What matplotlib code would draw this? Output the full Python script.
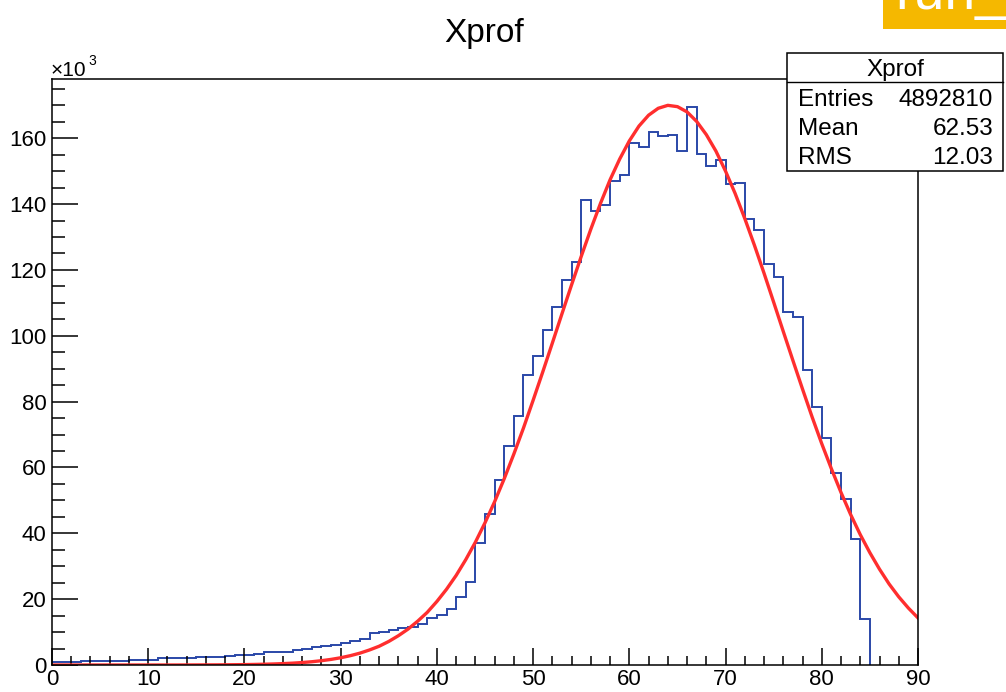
import matplotlib
matplotlib.use("Agg")
import matplotlib.pyplot as plt
from matplotlib.patches import Rectangle
from matplotlib.ticker import MultipleLocator
import numpy as np

plt.rcParams['font.family'] = ['Liberation Sans', 'DejaVu Sans']

# histogram Xprof, 1 unit bins from 0 to 85, counts in units of 1e3
bin_edges = np.arange(0, 86, 1)
counts = [1.0, 1.0, 1.0, 1.1, 1.1, 1.1, 1.3, 1.3, 1.4, 1.4,
          1.5, 2.0, 2.0, 2.1, 2.1, 2.4, 2.5, 2.5, 2.6, 3.0,
          3.1, 3.4, 3.9, 4.0, 4.1, 4.5, 4.8, 5.5, 5.9, 6.1,
          6.6, 7.2, 7.9, 9.6, 9.9, 10.6, 11.1, 11.6, 12.5, 14.2,
          15.3, 16.9, 20.6, 25.3, 37.2, 45.8, 56.2, 66.6, 75.5, 88.0,
          94.0, 101.8, 108.6, 117.0, 122.3, 141.2, 137.8, 139.8, 147.1, 148.7,
          158.6, 157.2, 161.9, 160.6, 160.9, 156.2, 169.5, 155.3, 151.6, 153.5,
          146.1, 146.4, 135.6, 132.2, 121.8, 117.8, 107.2, 105.7, 89.7, 78.3,
          68.9, 58.4, 50.4, 38.2, 13.9]

# red fit curve, read at every unit from 0 to 90
fit_x = np.arange(0, 91, 1)
fit_y = [0.0, 0.0, 0.0, 0.0, 0.0, 0.0, 0.0, 0.0, 0.0, 0.0,
         0.0, 0.0, 0.0, 0.0, 0.01, 0.02, 0.03, 0.04, 0.06, 0.09,
         0.12, 0.17, 0.23, 0.31, 0.42, 0.56, 0.75, 0.99, 1.31, 1.70,
         2.20, 2.83, 3.6, 4.57, 5.7, 7.16, 8.9, 10.9, 13.3, 16.0,
         19.3, 23.0, 27.2, 32.0, 37.3, 43.2, 49.6, 56.6, 64.1, 72.0,
         80.4, 89.0, 97.8, 106.7, 115.5, 124.1, 132.4, 140.2, 147.4, 153.7,
         159.2, 163.7, 167.0, 169.1, 170.0, 169.6, 168.0, 165.1, 161.1, 156.1,
         150.0, 143.2, 135.6, 127.5, 119.0, 110.2, 101.3, 92.5, 83.8, 75.3,
         67.2, 59.6, 52.4, 45.7, 39.6, 34.1, 29.1, 24.6, 20.7, 17.3,
         14.3]

stats_labels = ['Entries', 'Mean', 'RMS']
stats_values = ['4892810', '62.53', '12.03']

W, H = 1006, 692
fig = plt.figure(figsize=(W / 100, H / 100), dpi=100)

def fx(px):
    return px / W

def fy(py):
    return 1 - py / H

ax = fig.add_axes([fx(52), fy(665), fx(918) - fx(52), fy(79) - fy(665)])

ax.stairs(counts, bin_edges, color='#2a48a8', linewidth=1.4)
ax.plot(fit_x, fit_y, color='#ff2e2e', linewidth=2.4)

ax.set_xlim(0, 90)
ax.set_ylim(0, 178)
ax.xaxis.set_major_locator(MultipleLocator(10))
ax.xaxis.set_minor_locator(MultipleLocator(2))
ax.yaxis.set_major_locator(MultipleLocator(20))
ax.yaxis.set_minor_locator(MultipleLocator(5))
ax.tick_params(axis='y', which='major', direction='in', length=19, width=1.1, pad=4, labelsize=16)
ax.tick_params(axis='y', which='minor', direction='in', length=9.5, width=1.1)
ax.tick_params(axis='x', which='major', direction='in', length=12.5, width=1.1, pad=3, labelsize=16)
ax.tick_params(axis='x', which='minor', direction='in', length=6.3, width=1.1)
for s in ax.spines.values():
    s.set_linewidth(1.1)

fig.text(fx(484), fy(42), 'Xprof', ha='center', va='baseline', fontsize=24)
fig.text(fx(51), fy(76), '\u00d710', ha='left', va='baseline', fontsize=15)
fig.text(fx(88), fy(65), '3', ha='left', va='baseline', fontsize=10)

# stats box
fig.patches.append(Rectangle((fx(787), fy(171)), fx(1003) - fx(787), fy(53) - fy(171),
                             transform=fig.transFigure, facecolor='white',
                             edgecolor='black', linewidth=1.1, zorder=5))
fig.lines.append(plt.Line2D([fx(787), fx(1003)], [fy(81.5), fy(81.5)],
                            transform=fig.transFigure, color='black', linewidth=1.0, zorder=6))
fig.text(fx(895), fy(76), 'Xprof', ha='center', va='baseline', fontsize=17.5, zorder=7)
for i, (lab, val) in enumerate(zip(stats_labels, stats_values)):
    yb = fy(106 + 29 * i)
    fig.text(fx(798), yb, lab, ha='left', va='baseline', fontsize=17.5, zorder=7)
    fig.text(fx(993), yb, val, ha='right', va='baseline', fontsize=17.5, zorder=7)

# orange tag cut off at top right
fig.patches.append(Rectangle((fx(883), fy(29)), 1 - fx(883), fy(0) - fy(29),
                             transform=fig.transFigure, facecolor='#f5b800',
                             edgecolor='none', zorder=5))
fig.text(fx(895), fy(9), 'run_', ha='left', va='baseline', fontsize=40,
         color='white', zorder=7)

fig.savefig('out.png', dpi=100)
